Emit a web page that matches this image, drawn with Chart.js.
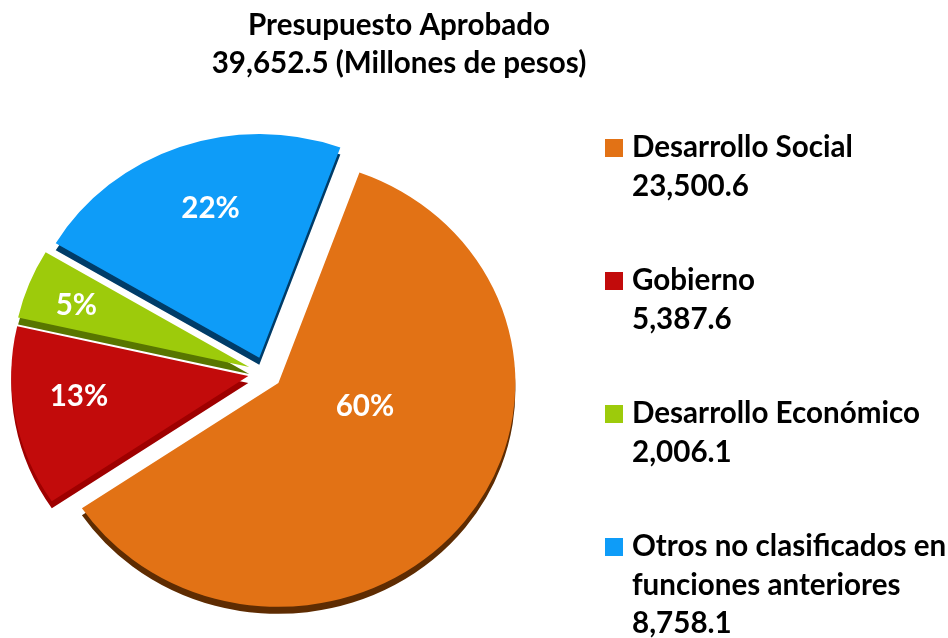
<!DOCTYPE html>
<html>
<head>
<meta charset="utf-8">
<script src="https://cdn.jsdelivr.net/npm/chart.js@4/dist/chart.umd.min.js"></script>
<style>
html,body{margin:0;padding:0;background:#ffffff;}
#wrap{width:948px;height:638px;position:relative;}
</style>
</head>
<body>
<div id="wrap"><canvas id="c" width="948" height="638"></canvas></div>
<script>
// ---- data ----
const titleLines = ['Presupuesto Aprobado', '39,652.5 (Millones de pesos)'];
const categories = ['Desarrollo Social', 'Gobierno', 'Desarrollo Económico', 'Otros no clasificados en funciones anteriores'];
const shares = [60, 13, 5, 22];                       // % shown on the pie
const amounts = [23500.6, 5387.6, 2006.1, 8758.1];    // millones de pesos
const faceColors = ['#E27215', '#C20B0B', '#9DCB0B', '#0E9CF8'];
const sideColors = ['#5E2C02', '#9E0000', '#587600', '#003C68'];

// ---- style / layout constants ----
const FONT_FAMILY = 'Lato, "Open Sans", "Liberation Sans", sans-serif';
const FONT_WEIGHT = 'bold';
const K = 0.945;       // vertical squash (3D tilt look)
const DEPTH = 7;       // visible side thickness (px)
const EXPLODE = 17;    // slice explosion distance (px)
const CY = 373;        // pie centre y (matches layout padding)
// label placement per slice: radial fraction and angular shift (deg)
const labelPlace = [{f: 0.38, s: -22}, {f: 0.72, s: 3.6}, {f: 0.78, s: -1}, {f: 0.70, s: 2.5}];

// font size fitted to the reference legend width
const mctx = document.createElement('canvas').getContext('2d');
mctx.font = FONT_WEIGHT + ' 100px ' + FONT_FAMILY;
const FS = 100 * 221 / mctx.measureText('Desarrollo Social').width;
const FONT = FONT_WEIGHT + ' ' + FS.toFixed(2) + 'px ' + FONT_FAMILY;

function fmt(v) {
  return v.toLocaleString('en-US', {minimumFractionDigits: 1, maximumFractionDigits: 1});
}
function wrap(ctx, text, maxW) {
  const words = text.split(' ');
  const lines = [];
  let cur = '';
  for (const w of words) {
    const t = cur ? cur + ' ' + w : w;
    if (cur && ctx.measureText(t).width > maxW) { lines.push(cur); cur = w; } else cur = t;
  }
  if (cur) lines.push(cur);
  return lines;
}
function squash(ctx) {
  ctx.translate(0, CY);
  ctx.scale(1, K);
  ctx.translate(0, -CY);
}

const pie3d = {
  id: 'pie3d',
  beforeDatasetsDraw(chart) {
    const ctx = chart.ctx;
    const arcs = chart.getDatasetMeta(0).data;
    ctx.save();
    squash(ctx);
    // side (depth) pass
    arcs.forEach((el, i) => {
      const h = (el.startAngle + el.endAngle) / 2;
      const p = Object.create(el);
      p.options = Object.assign({}, el.options, {backgroundColor: sideColors[i], borderColor: sideColors[i], offset: 0});
      ctx.save();
      ctx.translate(Math.cos(h) * EXPLODE, Math.sin(h) * EXPLODE + DEPTH / K);
      p.draw(ctx);
      ctx.restore();
    });
    // top faces
    arcs.forEach((el) => {
      const h = (el.startAngle + el.endAngle) / 2;
      ctx.save();
      ctx.translate(Math.cos(h) * EXPLODE, Math.sin(h) * EXPLODE);
      el.draw(ctx);
      ctx.restore();
    });
    ctx.restore();
    return false;
  },
  afterDraw(chart) {
    const ctx = chart.ctx;
    const arcs = chart.getDatasetMeta(0).data;
    const total = shares.reduce((a, b) => a + b, 0);
    ctx.save();
    ctx.font = FONT;
    // percentage labels
    ctx.fillStyle = '#ffffff';
    ctx.textAlign = 'center';
    ctx.textBaseline = 'alphabetic';
    arcs.forEach((el, i) => {
      const h = (el.startAngle + el.endAngle) / 2;
      const a = h + labelPlace[i].s * Math.PI / 180;
      const ax = el.x + Math.cos(h) * EXPLODE;
      const ay = el.y + Math.sin(h) * EXPLODE;
      const lx = ax + Math.cos(a) * el.outerRadius * labelPlace[i].f;
      const lyU = ay + Math.sin(a) * el.outerRadius * labelPlace[i].f;
      const ly = CY + (lyU - CY) * K;
      const txt = Math.round(shares[i] / total * 100) + '%';
      ctx.fillText(txt, lx, ly + FS * 0.34);
    });
    // title
    ctx.fillStyle = '#000000';
    ctx.textAlign = 'center';
    ctx.fillText(titleLines[0], 399, 34.5);
    ctx.fillText(titleLines[1], 399, 72.5);
    // legend
    ctx.textAlign = 'left';
    categories.forEach((c, i) => {
      const base = 157 + i * 133;
      ctx.fillStyle = faceColors[i];
      ctx.fillRect(605, base - 18, 18, 18);
      ctx.fillStyle = '#000000';
      const lines = wrap(ctx, c, 318).concat([fmt(amounts[i])]);
      lines.forEach((ln, j) => ctx.fillText(ln, 632, base + j * 38.5));
    });
    ctx.restore();
  }
};

new Chart(document.getElementById('c'), {
  type: 'pie',
  data: {
    labels: categories,
    datasets: [{
      data: shares,
      backgroundColor: faceColors,
      borderWidth: 0,
      offset: 0,
      radius: 237,
      clip: false
    }]
  },
  options: {
    responsive: false,
    animation: false,
    events: [],
    rotation: 20,
    layout: {padding: {left: 0, right: 418, top: 108, bottom: 0}},
    plugins: {
      legend: {display: false},
      title: {display: false},
      tooltip: {enabled: false}
    }
  },
  plugins: [pie3d]
});
</script>
</body>
</html>
